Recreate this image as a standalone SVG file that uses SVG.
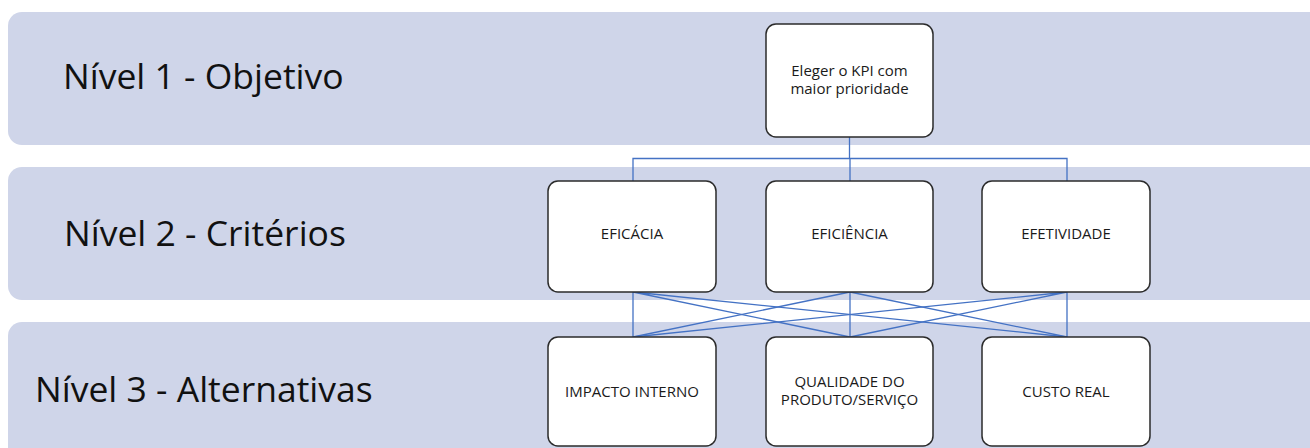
<svg xmlns="http://www.w3.org/2000/svg" width="1310" height="448" viewBox="0 0 1310 448">
<style>
.band{fill:#CFD5E9;stroke:none}
.lvl{font-family:"Open Sans","Liberation Sans",sans-serif;font-size:35.5px;fill:#111}
.node rect{fill:#fff;stroke:#2b2b2b;stroke-width:1.5}
.node text{font-family:"Open Sans","Liberation Sans",sans-serif;font-size:15px;fill:#1a1a1a;text-anchor:middle}
.conn{stroke:#4472C4;stroke-width:1.3;fill:none}
</style>
<rect width="1310" height="448" fill="#fff"/>
<g id="band1"><rect class="band" x="8" y="12" width="1340" height="133" rx="14"/><text class="lvl" x="63" y="89">Nível 1 - Objetivo</text></g>
<g id="band2"><rect class="band" x="8" y="167" width="1340" height="133" rx="14"/><text class="lvl" x="64" y="246">Nível 2 - Critérios</text></g>
<g id="band3"><rect class="band" x="8" y="322" width="1340" height="150" rx="14"/><text class="lvl" x="35" y="402">Nível 3 - Alternativas</text></g>
<g id="connectors" class="conn">
<path d="M849.5 137V158.5M633 181V158.5H1067V181M850 158.5V181"/>
<path d="M633 292L633 337M633 292L850 337M633 292L1067 337"/>
<path d="M850 292L633 337M850 292L850 337M850 292L1067 337"/>
<path d="M1067 292L633 337M1067 292L850 337M1067 292L1067 337"/>
</g>
<g id="n-goal" class="node"><rect x="766" y="24" width="167" height="113" rx="10"/><text x="849.5" y="76">Eleger o KPI com</text><text x="849.5" y="94">maior prioridade</text></g>
<g id="n-eficacia" class="node"><rect x="548" y="181" width="168" height="111" rx="10"/><text x="632" y="239">EFICÁCIA</text></g>
<g id="n-eficiencia" class="node"><rect x="766" y="181" width="167" height="111" rx="10"/><text x="849.5" y="239">EFICIÊNCIA</text></g>
<g id="n-efetividade" class="node"><rect x="982" y="181" width="168" height="111" rx="10"/><text x="1066" y="239">EFETIVIDADE</text></g>
<g id="n-impacto" class="node"><rect x="548" y="337" width="168" height="109" rx="10"/><text x="632" y="397">IMPACTO INTERNO</text></g>
<g id="n-qualidade" class="node"><rect x="766" y="337" width="167" height="109" rx="10"/><text x="849.5" y="387">QUALIDADE DO</text><text x="849.5" y="405">PRODUTO/SERVIÇO</text></g>
<g id="n-custo" class="node"><rect x="982" y="337" width="168" height="109" rx="10"/><text x="1066" y="397">CUSTO REAL</text></g>
</svg>
